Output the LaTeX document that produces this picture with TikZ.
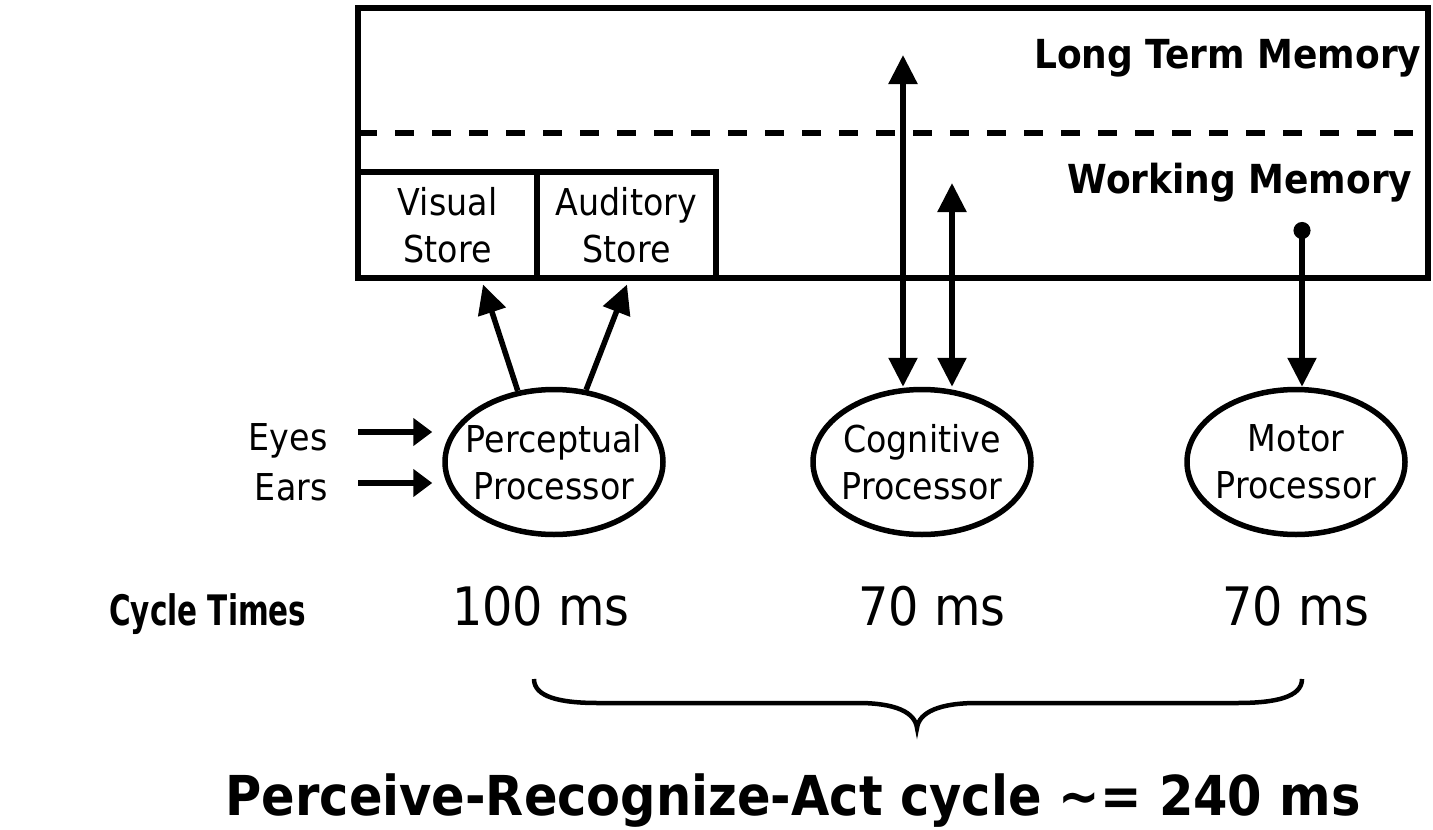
\documentclass[tikz,border=0pt]{standalone}
\usepackage{fontspec}
\setmainfont[FakeStretch=0.9]{DejaVu Sans}
\usetikzlibrary{arrows.meta,shapes.geometric}
\begin{document}
\begin{tikzpicture}[x=1pt,y=-1pt,
  lbl/.style={font=\fontsize{37pt}{47pt}\selectfont},
  memlbl/.style={font=\bfseries\fontsize{40pt}{48pt}\selectfont},
  timelbl/.style={font=\fontsize{53pt}{60pt}\selectfont},
  timehead/.style={font=\bfseries\fontsize{42pt}{52pt}\selectfont},
  cyclelbl/.style={font=\bfseries\fontsize{55pt}{64pt}\selectfont},
  frame/.style={draw,line width=6pt,inner sep=0pt},
  store/.style={frame,minimum width=179pt,minimum height=106pt,align=center,lbl},
  proc/.style={ellipse,draw,line width=5.5pt,inner xsep=-45pt,inner ysep=-25pt,
    minimum width=218pt,minimum height=145pt,align=center,lbl},
  conn/.style={line width=5.5pt},
  tipend/.style={-{Triangle[length=29pt,width=28pt]}},
  tipboth/.style={{Triangle[length=29pt,width=28pt]}-{Triangle[length=29pt,width=28pt]}},
  tipsmall/.style={-{Triangle[length=19pt,width=27pt]}},
  tipdot/.style={{Circle[length=17pt]}-{Triangle[length=29pt,width=28pt]}},
]
\useasboundingbox (0,0) rectangle (1433,830);

% memory block: long term memory above the dashed line, working memory below
\node[frame,minimum width=1070pt,minimum height=270pt] (mem) at (893,143) {};
\coordinate (dashL) at (358,133);
\coordinate (dashR) at (1428,133);
\draw[line width=6pt,dash pattern=on 19pt off 18pt] (dashL) -- (dashR);
\node[memlbl,anchor=base east] (ltm) at (1425,68) {Long Term Memory};
\node[memlbl,anchor=base east] (wm) at (1416,193) {Working Memory};

% sensory stores
\node[store] (vis) at (447.5,225) {Visual\\Store};
\node[store] (aud) at (626.5,225) {Auditory\\Store};

% processors
\node[proc] (per) at (554,462) {Perceptual\\Processor};
\node[proc] (cog) at (922,462) {Cognitive\\Processor};
\node[proc] (mot) at (1296,462) {Motor\\Processor};

% inputs
\node[lbl,anchor=base east] (eyes) at (331,450) {Eyes};
\node[lbl,anchor=base east] (ears) at (331,500) {Ears};
\coordinate (eyesIn) at (358,432);
\coordinate (earsIn) at (358,483);
\draw[conn,tipsmall,shorten >=10pt] (eyesIn) -- (eyesIn -| per.west);
\draw[conn,tipsmall,shorten >=10pt] (earsIn) -- (earsIn -| per.west);

% perceptual processor feeds the stores
\draw[conn,tipend] (per.117) -- ([shift={(35.5,3.5)}]vis.south);
\draw[conn,tipend] (per.66) -- ([shift={(0.5,3.5)}]aud.south);

% cognitive processor exchanges with both memories
\coordinate (ltmEnd) at (903,55);
\coordinate (wmEnd) at (952,183);
\draw[conn,tipboth] (ltmEnd) -- (ltmEnd |- cog.north);
\draw[conn,tipboth] (wmEnd) -- (wmEnd |- cog.north);

% motor processor reads working memory
\coordinate (motSrc) at (1302,222);
\draw[conn,tipdot] (motSrc) -- (motSrc |- mot.north);

% cycle times
\node[timehead,anchor=base east] (ct) at (310,625) {\scalebox{0.78}[1]{Cycle Times}};
\node[timelbl,anchor=base] (tper) at (541,625) {100 ms};
\node[timelbl,anchor=base] (tcog) at (932,625) {70 ms};
\node[timelbl,anchor=base] (tmot) at (1296,625) {70 ms};

% brace under the three times
\draw[line width=4.5pt]
  (534,679) .. controls (534,697) and (560,703) .. (598,703)
  -- (858,703) .. controls (895,703) and (915,712) .. (917,728)
  .. controls (919,712) and (940,703) .. (977,703)
  -- (1237,703) .. controls (1276,703) and (1302,697) .. (1302,679);

\node[cyclelbl,anchor=base] (total) at (793,815) {Perceive-Recognize-Act cycle \textasciitilde= 240 ms};
\end{tikzpicture}
\end{document}
